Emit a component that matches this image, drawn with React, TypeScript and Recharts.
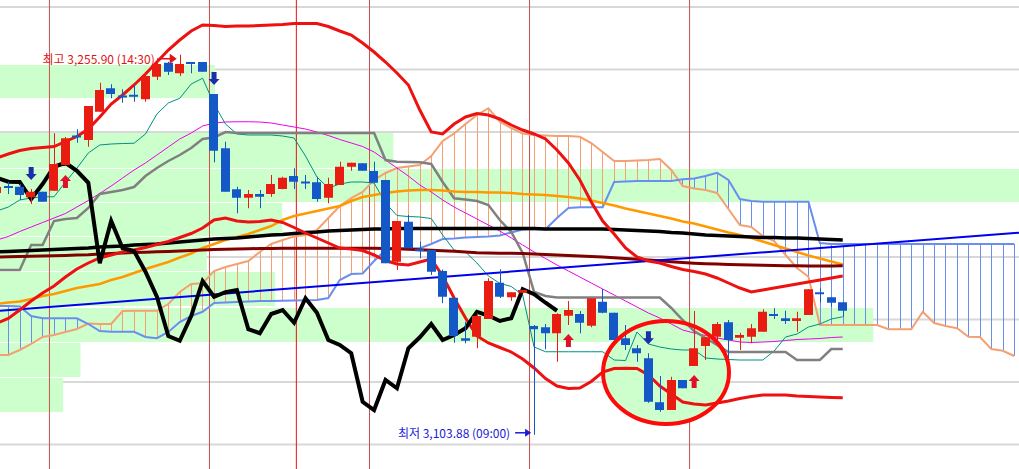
import React from 'react';
import {
  ComposedChart,
  Line,
  Bar,
  XAxis,
  YAxis,
  ReferenceLine,
  ReferenceArea,
  ReferenceDot,
} from 'recharts';

// chart frame (index -1 is the half-cut candle on the left edge)
const WIDTH = 1019;
const HEIGHT = 469;
const FIRST_BAR = -1;
const X_DOMAIN: [number, number] = [-0.726, 88.42];
const Y_DOMAIN: [number, number] = [3090.2, 3277.8];

const gridPrices = [3275, 3250, 3225, 3200, 3175, 3150, 3125, 3100];
const dayBreaks = [3.6, 17.6, 25.2, 31.6, 45.6, 59.6];

// candles, index -1 .. 73
const opens = [
  3200.6, 3203.4, 3203.1, 3198.9, 3201.1, 3201.5, 3211.8, 3223.6, 3221.8, 3233.1,
  3242.5, 3239.6, 3239.9, 3238.1, 3247.1, 3252.7, 3248.5, 3253.0, 3253.0, 3240.2,
  3218.5, 3202.1, 3198.7, 3200.2, 3200.2, 3202.2, 3207.4, 3205.2, 3204.9, 3198.7,
  3203.8, 3211.1, 3212.5, 3209.4, 3205.8, 3173.1, 3189.1, 3178.1, 3177.8, 3169.4,
  3158.7, 3142.5, 3143.1, 3150.2, 3164.7, 3158.9, 3160.7, 3147.4, 3146.9, 3144.5,
  3151.5, 3152.2, 3147.5, 3157.1, 3152.7, 3142.5, 3138.5, 3134.5, 3116.9, 3113.8,
  3125.8, 3131.4, 3139.4, 3143.1, 3148.9, 3142.7, 3143.1, 3145.1, 3152.2, 3150.5,
  3149.4, 3151.8, 3160.9, 3158.9, 3156.9,
];
const highs = [
  3203.8, 3205.1, 3204.2, 3202.2, 3201.1, 3224.5, 3223.0, 3226.1, 3235.4, 3244.7,
  3244.1, 3242.1, 3243.8, 3248.5, 3254.5, 3253.1, 3255.9, 3253.0, 3253.0, 3240.2,
  3221.1, 3203.1, 3201.8, 3201.8, 3207.8, 3207.1, 3210.5, 3207.8, 3207.1, 3206.7,
  3213.1, 3212.7, 3212.5, 3213.1, 3205.8, 3189.4, 3191.8, 3181.1, 3177.8, 3170.0,
  3158.7, 3149.1, 3152.5, 3166.5, 3170.1, 3160.9, 3161.8, 3147.8, 3148.2, 3152.5,
  3157.4, 3153.4, 3158.5, 3162.2, 3152.7, 3147.8, 3139.8, 3136.5, 3127.4, 3127.1,
  3125.8, 3153.4, 3142.9, 3149.0, 3149.8, 3144.7, 3148.2, 3154.1, 3154.5, 3153.5,
  3153.1, 3162.1, 3162.5, 3158.9, 3156.9,
];
const lows = [
  3199.8, 3200.2, 3197.8, 3196.2, 3197.1, 3201.5, 3211.4, 3220.7, 3219.1, 3233.1,
  3238.5, 3236.7, 3237.1, 3237.1, 3245.8, 3247.8, 3247.4, 3248.5, 3249.1, 3212.9,
  3201.1, 3192.5, 3194.5, 3194.5, 3199.1, 3202.1, 3202.2, 3202.2, 3197.1, 3196.5,
  3203.8, 3209.5, 3209.5, 3204.7, 3172.5, 3169.8, 3178.5, 3174.5, 3167.8, 3156.5,
  3140.7, 3140.5, 3138.5, 3150.2, 3158.6, 3157.5, 3160.7, 3103.88, 3138.1, 3133.1,
  3147.8, 3144.5, 3146.9, 3152.5, 3141.1, 3137.8, 3133.1, 3116.7, 3113.1, 3113.8,
  3122.5, 3131.4, 3133.8, 3141.1, 3133.8, 3137.8, 3140.5, 3145.1, 3150.2, 3148.2,
  3145.1, 3151.8, 3156.7, 3155.1, 3151.1,
];
const closes = [
  3203.0, 3202.8, 3199.8, 3201.1, 3197.1, 3212.2, 3222.5, 3223.2, 3235.4, 3241.8,
  3240.2, 3239.4, 3239.8, 3247.4, 3252.2, 3249.1, 3252.2, 3252.8, 3249.1, 3217.5,
  3201.1, 3198.7, 3200.2, 3199.1, 3204.2, 3206.7, 3205.1, 3205.0, 3198.2, 3204.2,
  3211.1, 3212.7, 3209.5, 3204.7, 3172.5, 3189.4, 3178.5, 3177.4, 3169.1, 3159.1,
  3143.4, 3141.5, 3151.4, 3165.4, 3159.1, 3160.9, 3161.8, 3146.1, 3144.5, 3152.2,
  3153.8, 3148.7, 3158.5, 3152.7, 3141.8, 3139.8, 3136.5, 3117.1, 3113.8, 3125.8,
  3122.5, 3138.5, 3142.9, 3148.2, 3141.8, 3143.8, 3146.5, 3153.1, 3151.6, 3149.4,
  3150.5, 3162.1, 3160.1, 3156.7, 3153.5,
];

// bollinger bands
const bbUpper = [
  3214.6, 3216.2, 3217.6, 3218.4, 3218.8, 3219.2, 3221.2, 3223.2, 3226.2, 3231.0,
  3236.2, 3239.8, 3243.8, 3248.2, 3253.0, 3257.8, 3261.8, 3265.4, 3267.8, 3267.6,
  3267.2, 3267.4, 3267.4, 3267.6, 3267.8, 3268.0, 3268.4, 3268.4, 3268.4, 3267.2,
  3265.4, 3263.8, 3260.6, 3257.0, 3253.0, 3248.6, 3243.8, 3233.8, 3225.0, 3224.2,
  3228.2, 3231.0, 3232.4, 3231.8, 3230.2, 3227.8, 3225.8, 3224.2, 3222.2, 3217.8,
  3212.6, 3205.8, 3197.0, 3189.4, 3184.2, 3178.6, 3175.0, 3173.4, 3172.6, 3171.2,
  3170.0, 3169.2, 3168.2, 3166.6, 3164.6, 3162.6, 3161.0, 3161.8, 3162.6, 3163.4,
  3164.2, 3165.0, 3165.8, 3166.6, 3167.4,
];
const bbLower = [
  3148.6, 3150.4, 3153.8, 3157.4, 3160.6, 3163.4, 3167.0, 3170.2, 3172.6, 3174.6,
  3175.8, 3177.0, 3177.8, 3178.8, 3180.0, 3181.2, 3182.8, 3184.4, 3186.6, 3189.8,
  3190.6, 3189.4, 3189.0, 3189.2, 3189.8, 3188.8, 3186.8, 3184.6, 3182.6, 3180.6,
  3178.6, 3178.2, 3177.6, 3175.8, 3173.6, 3172.2, 3171.8, 3173.0, 3174.2, 3167.4,
  3158.6, 3150.6, 3143.4, 3140.6, 3138.8, 3137.0, 3134.2, 3130.6, 3126.4, 3123.4,
  3122.4, 3122.6, 3125.2, 3129.0, 3130.4, 3130.5, 3130.4, 3127.8, 3123.4, 3120.2,
  3117.0, 3116.2, 3115.8, 3116.6, 3117.4, 3118.4, 3119.2, 3119.8, 3119.8, 3119.8,
  3119.4, 3119.2, 3119.0, 3118.8, 3118.7,
];

// moving averages
const ma20 = [
  3181.8, 3183.2, 3185.2, 3187.0, 3188.8, 3190.6, 3192.4, 3195.0, 3197.6, 3200.4,
  3203.4, 3206.6, 3209.8, 3212.6, 3215.8, 3219.0, 3222.2, 3224.6, 3227.4, 3228.6,
  3229.0, 3229.1, 3229.1, 3229.0, 3228.6, 3227.8, 3227.0, 3226.2, 3225.0, 3223.6,
  3222.0, 3220.6, 3219.2, 3217.0, 3213.8, 3210.6, 3207.4, 3203.8, 3201.0, 3197.8,
  3195.0, 3192.6, 3190.2, 3187.8, 3185.4, 3182.6, 3179.8, 3177.0, 3174.4, 3171.8,
  3169.4, 3167.0, 3164.6, 3162.2, 3159.8, 3157.4, 3155.0, 3152.6, 3150.6, 3148.2,
  3145.8, 3144.6, 3143.6, 3142.6, 3141.8, 3141.0, 3140.8, 3141.0, 3141.2, 3141.6,
  3142.0, 3142.2, 3142.4, 3142.8, 3143.0,
];
const ma60 = [
  3156.2, 3156.8, 3157.2, 3158.2, 3159.4, 3160.2, 3161.4, 3162.6, 3163.4, 3164.2,
  3165.8, 3167.0, 3168.6, 3170.2, 3171.6, 3173.0, 3174.8, 3176.4, 3178.6, 3180.2,
  3181.8, 3183.0, 3184.2, 3185.8, 3187.4, 3189.8, 3191.4, 3192.4, 3193.4, 3194.4,
  3195.4, 3197.4, 3199.0, 3199.8, 3200.6, 3201.2, 3201.6, 3201.8, 3201.8, 3201.6,
  3201.2, 3201.0, 3201.0, 3200.8, 3200.8, 3200.6, 3200.2, 3200.0, 3199.8, 3199.4,
  3199.0, 3198.4, 3197.6, 3196.6, 3195.6, 3194.4, 3193.4, 3192.4, 3191.4, 3190.4,
  3189.2, 3188.4, 3187.2, 3186.0, 3184.8, 3183.8, 3182.6, 3181.2, 3179.8, 3178.4,
  3177.0, 3175.6, 3174.4, 3173.2, 3172.0,
];
const ma120 = [
  3177.0, 3177.2, 3177.4, 3177.6, 3177.8, 3178.0, 3178.2, 3178.4, 3178.6, 3179.0,
  3179.2, 3179.4, 3179.8, 3180.0, 3180.2, 3180.6, 3181.0, 3181.4, 3181.8, 3182.2,
  3182.4, 3182.6, 3183.0, 3183.4, 3183.8, 3184.0, 3184.4, 3184.8, 3185.0, 3185.4,
  3185.6, 3185.8, 3186.0, 3186.2, 3186.2, 3186.4, 3186.4, 3186.4, 3186.4, 3186.4,
  3186.4, 3186.4, 3186.4, 3186.4, 3186.4, 3186.4, 3186.4, 3186.4, 3186.2, 3186.2,
  3186.2, 3186.2, 3186.2, 3186.2, 3186.0, 3185.8, 3185.6, 3185.4, 3185.2, 3184.8,
  3184.6, 3184.2, 3183.8, 3183.6, 3183.4, 3183.2, 3183.0, 3182.8, 3182.8, 3182.6,
  3182.6, 3182.4, 3182.2, 3182.0, 3181.8,
];
const ma240 = [
  3175.0, 3175.1, 3175.2, 3175.3, 3175.4, 3175.5, 3175.6, 3175.8, 3175.9, 3176.2,
  3176.4, 3176.6, 3176.8, 3176.9, 3177.1, 3177.2, 3177.4, 3177.6, 3177.8, 3178.0,
  3178.1, 3178.2, 3178.3, 3178.4, 3178.4, 3178.5, 3178.5, 3178.5, 3178.5, 3178.5,
  3178.5, 3178.5, 3178.5, 3178.5, 3178.4, 3178.3, 3178.1, 3177.9, 3177.7, 3177.5,
  3177.3, 3177.0, 3176.7, 3176.6, 3176.5, 3176.5, 3176.4, 3176.2, 3176.0, 3175.8,
  3175.6, 3175.4, 3175.2, 3175.0, 3174.7, 3174.4, 3174.1, 3173.8, 3173.5, 3173.1,
  3172.8, 3172.5, 3172.3, 3172.2, 3172.0, 3171.9, 3171.8, 3171.7, 3171.6, 3171.5,
  3171.5, 3171.4, 3171.4, 3171.4, 3171.5,
];

// ichimoku
const tenkan = [
  3193.4, 3195.0, 3197.8, 3198.6, 3199.1, 3199.1, 3205.0, 3210.5, 3216.6, 3219.8,
  3220.2, 3220.4, 3220.5, 3224.2, 3232.2, 3236.6, 3238.5, 3244.2, 3246.5, 3236.2,
  3228.2, 3224.2, 3223.8, 3223.8, 3223.8, 3223.4, 3222.6, 3215.4, 3207.0, 3202.6,
  3204.2, 3205.0, 3205.0, 3204.6, 3196.6, 3191.6, 3191.2, 3191.0, 3190.4, 3183.8,
  3177.8, 3177.0, 3172.6, 3167.4, 3164.5, 3163.2, 3159.8, 3139.0, 3137.1, 3137.1,
  3137.1, 3137.1, 3137.1, 3137.1, 3133.8, 3133.6, 3145.0, 3140.2, 3139.0, 3138.2,
  3137.8, 3137.8, 3134.6, 3134.2, 3134.0, 3133.8, 3133.8, 3133.8, 3137.4, 3143.0,
  3144.2, 3147.0, 3148.2, 3150.2, 3151.1,
];
const kijun = [
  3169.8, 3169.8, 3169.8, 3179.8, 3179.8, 3189.4, 3190.2, 3190.6, 3194.6, 3200.2,
  3201.0, 3201.8, 3203.0, 3207.4, 3210.6, 3213.4, 3215.8, 3218.6, 3222.2, 3222.8,
  3225.0, 3224.6, 3224.6, 3224.6, 3224.6, 3224.6, 3224.6, 3224.6, 3224.6, 3224.6,
  3224.6, 3224.6, 3224.6, 3224.6, 3213.8, 3213.1, 3213.0, 3212.9, 3212.2, 3205.0,
  3198.5, 3198.0, 3197.4, 3195.8, 3189.8, 3185.0, 3176.6, 3161.0, 3159.4, 3158.8,
  3158.8, 3158.8, 3158.8, 3158.8, 3158.8, 3158.8, 3158.8, 3158.8, 3158.8, 3154.6,
  3149.8, 3145.4, 3142.6, 3139.8, 3137.0, 3137.0, 3137.0, 3137.0, 3137.0, 3137.0,
  3133.8, 3133.8, 3133.8, 3138.2, 3138.2,
];
// lagging span, index -1 .. 48
const chikou = [
  3206.7, 3205.1, 3205.0, 3198.2, 3204.2, 3211.1, 3212.7, 3209.5, 3204.7, 3172.5,
  3189.4, 3178.5, 3177.4, 3169.1, 3159.1, 3143.4, 3141.5, 3151.4, 3165.4, 3159.1,
  3160.9, 3161.8, 3146.1, 3144.5, 3152.2, 3153.8, 3148.7, 3158.5, 3152.7, 3141.8,
  3139.8, 3136.5, 3117.1, 3113.8, 3125.8, 3122.5, 3138.5, 3142.9, 3148.2, 3141.8,
  3143.8, 3146.5, 3153.1, 3151.6, 3149.4, 3150.5, 3162.1, 3160.1, 3156.7, 3153.5,
];
// leading spans, index -1 .. 88
const spanA = [
  3135.8, 3135.8, 3137.8, 3140.2, 3143.0, 3143.8, 3145.0, 3146.2, 3148.4, 3148.2,
  3148.2, 3153.4, 3153.5, 3153.5, 3153.5, 3156.2, 3161.0, 3164.2, 3164.5, 3169.4,
  3171.0, 3172.2, 3173.4, 3177.0, 3180.2, 3181.8, 3183.2, 3183.8, 3185.8, 3190.6,
  3195.4, 3198.6, 3201.0, 3205.8, 3208.6, 3210.6, 3211.2, 3211.8, 3215.4, 3221.4,
  3224.4, 3228.2, 3231.8, 3234.5, 3229.1, 3226.6, 3224.4, 3223.8, 3223.6, 3223.4,
  3223.4, 3223.1, 3220.6, 3217.0, 3213.4, 3213.4, 3213.6, 3213.8, 3214.2, 3209.8,
  3203.4, 3202.4, 3201.8, 3200.6, 3194.2, 3187.8, 3187.0, 3183.4, 3181.4, 3175.8,
  3170.6, 3167.1, 3147.8, 3147.8, 3147.8, 3147.8, 3147.8, 3147.8, 3146.1, 3146.1,
  3146.1, 3153.1, 3148.6, 3147.4, 3146.5, 3143.1, 3143.0, 3138.2, 3137.5, 3135.4,
];
const spanB = [
  3155.4, 3155.4, 3155.2, 3151.4, 3150.5, 3150.5, 3150.5, 3150.5, 3148.2, 3145.4,
  3145.1, 3145.1, 3145.1, 3143.0, 3142.5, 3145.0, 3149.0, 3151.4, 3153.1, 3156.6,
  3156.8, 3157.0, 3157.2, 3157.4, 3157.4, 3157.5, 3157.6, 3157.7, 3157.8, 3158.6,
  3165.8, 3168.2, 3168.4, 3173.4, 3177.8, 3178.4, 3178.5, 3178.5, 3180.2, 3182.2,
  3182.4, 3182.8, 3183.0, 3183.2, 3183.6, 3184.8, 3186.0, 3186.1, 3186.1, 3190.6,
  3194.6, 3194.9, 3194.9, 3194.9, 3205.0, 3205.2, 3205.4, 3205.4, 3205.4, 3205.4,
  3206.1, 3206.4, 3207.4, 3208.7, 3205.8, 3198.2, 3197.4, 3197.1, 3197.1, 3197.1,
  3197.1, 3197.1, 3180.6, 3180.2, 3180.2, 3180.2, 3180.2, 3180.2, 3180.2, 3180.2,
  3180.2, 3180.2, 3180.2, 3180.2, 3180.2, 3180.2, 3180.2, 3180.2, 3180.2, 3180.2,
];

// trend line, price at the left and right edge
const trendLine = [3153.5, 3184.7];

// volume-by-price profile
const profileTop = [3251.8, 3224.6, 3210.2, 3196.6, 3183.0, 3169.0, 3154.6, 3140.6, 3126.6];
const profileBottom = [3238.6, 3210.6, 3197.0, 3183.4, 3169.4, 3155.4, 3141.0, 3127.0, 3113.0];
const profileVolume = [21.1, 38.6, 100, 27.7, 20.3, 27.0, 85.7, 7.9, 6.2];

// signals
const buySignals = [5, 49, 60];
const sellSignals = [2, 18, 56];

const highIndex = 15;
const highPrice = 3255.9;
const highText = '최고 3,255.90 (14:30)';
const lowIndex = 46;
const lowPrice = 3103.88;
const lowText = '최저 3,103.88 (09:00)';

// circled zone
const focusIndex = [52.03, 63.05];
const focusPrice = [3108.2, 3149.4];

const UP = '#e81c10';
const DOWN = '#1458c8';
const SPAN_A = '#f4a070';
const SPAN_B = '#6a8ef0';
const FONT = "'Noto Sans CJK KR', 'Noto Sans', sans-serif";

const rows = spanA.map((a, k) => {
  const b = spanB[k];
  const row: Record<string, any> = {
    i: FIRST_BAR + k,
    spanA: a,
    spanB: b,
    cloud: [Math.min(a, b), Math.max(a, b)],
  };
  if (k < opens.length) {
    row.open = opens[k];
    row.high = highs[k];
    row.low = lows[k];
    row.close = closes[k];
    row.range = [lows[k], highs[k]];
    row.bbUpper = bbUpper[k];
    row.bbLower = bbLower[k];
    row.ma20 = ma20[k];
    row.ma60 = ma60[k];
    row.ma120 = ma120[k];
    row.ma240 = ma240[k];
    row.tenkan = tenkan[k];
    row.kijun = kijun[k];
  }
  if (k < chikou.length) row.chikou = chikou[k];
  return row;
});

function CandleShape(props: any) {
  const { x, y, width, height, payload } = props;
  if (!payload || payload.open == null) return null;
  const { open, close, high, low } = payload;
  const top = Math.min(y, y + height);
  const span = Math.abs(height);
  const k = high > low ? span / (high - low) : 0;
  const py = (v: number) => top + (high - v) * k;
  const color = close >= open ? UP : DOWN;
  const cx = Math.round(x + width / 2) + 0.5;
  const bodyTop = py(Math.max(open, close));
  const bodyH = Math.max(2, py(Math.min(open, close)) - bodyTop);
  return (
    <g>
      <line x1={cx} x2={cx} y1={top} y2={top + span} stroke={color} strokeWidth={1} />
      <rect x={Math.round(x)} y={bodyTop} width={width} height={bodyH} fill={color} />
    </g>
  );
}

function HatchShape(props: any) {
  const { x, y, width, height, payload } = props;
  if (!payload || !height) return null;
  const color = payload.spanA >= payload.spanB ? SPAN_A : SPAN_B;
  const cx = Math.round(x + width / 2) + 0.5;
  return <line x1={cx} x2={cx} y1={y} y2={y + height} stroke={color} strokeWidth={1} />;
}

function UpArrow(props: any) {
  const { cx, cy } = props;
  const t = cy + 9;
  return (
    <path
      d={`M${cx} ${t} L${cx + 5.5} ${t + 6} L${cx + 2.5} ${t + 6} L${cx + 2.5} ${t + 13} L${cx - 2.5} ${t + 13} L${cx - 2.5} ${t + 6} L${cx - 5.5} ${t + 6} Z`}
      fill="#e0102a"
    />
  );
}

function DownArrow(props: any) {
  const { cx, cy } = props;
  const t = cy - 9;
  return (
    <path
      d={`M${cx} ${t} L${cx + 5.5} ${t - 6} L${cx + 2.5} ${t - 6} L${cx + 2.5} ${t - 13} L${cx - 2.5} ${t - 13} L${cx - 2.5} ${t - 6} L${cx - 5.5} ${t - 6} Z`}
      fill="#1a2fa8"
    />
  );
}

function HighNote(props: any) {
  const { cx, cy } = props;
  const ay = cy + 4;
  const c = '#e01414';
  return (
    <g>
      <text x={cx - 25} y={ay} textAnchor="end" dominantBaseline="central" fill={c} fontSize={12} fontFamily={FONT}>
        {highText}
      </text>
      <line x1={cx - 20} x2={cx - 8} y1={ay} y2={ay} stroke={c} strokeWidth={1.5} />
      <path d={`M${cx - 3} ${ay} L${cx - 10} ${ay - 5} L${cx - 10} ${ay + 5} Z`} fill={c} />
    </g>
  );
}

function LowNote(props: any) {
  const { cx, cy } = props;
  const ay = cy - 2;
  const c = '#1a1ad8';
  return (
    <g>
      <text x={cx - 24} y={ay} textAnchor="end" dominantBaseline="central" fill={c} fontSize={12} fontFamily={FONT}>
        {lowText}
      </text>
      <line x1={cx - 19} x2={cx - 8} y1={ay} y2={ay} stroke={c} strokeWidth={1.5} />
      <path d={`M${cx - 3} ${ay} L${cx - 9} ${ay - 4} L${cx - 9} ${ay + 4} Z`} fill={c} />
    </g>
  );
}

function FocusFill(props: any) {
  const { x, y, width, height } = props;
  return <ellipse cx={x + width / 2} cy={y + height / 2} rx={width / 2} ry={height / 2} fill="#ccffcc" />;
}

function FocusRing(props: any) {
  const { x, y, width, height } = props;
  return (
    <ellipse cx={x + width / 2} cy={y + height / 2} rx={width / 2} ry={height / 2} fill="none" stroke="#ff0a0a" strokeWidth={4} />
  );
}

const line = (key: string, color: string, width: number, z: number) => (
  <Line
    key={key}
    dataKey={key}
    type="linear"
    stroke={color}
    strokeWidth={width}
    dot={false}
    activeDot={false}
    isAnimationActive={false}
    zIndex={z}
  />
);

export default function App() {
  const span = X_DOMAIN[1] - X_DOMAIN[0];
  return (
    <div style={{ position: 'absolute', left: 0, top: 0, width: WIDTH, height: HEIGHT, background: '#fff' }}>
      <ComposedChart width={WIDTH} height={HEIGHT} data={rows} margin={{ top: 0, right: 0, bottom: 0, left: 0 }}>
        <XAxis dataKey="i" type="number" domain={X_DOMAIN} hide allowDataOverflow />
        <XAxis xAxisId="c" dataKey="i" type="number" domain={X_DOMAIN} hide allowDataOverflow />
        <YAxis type="number" domain={Y_DOMAIN} hide allowDataOverflow />

        {gridPrices.map((p) => (
          <ReferenceLine key={`g${p}`} y={p} stroke="#d8d8d8" strokeWidth={2} zIndex={-30} />
        ))}
        {profileVolume.map((v, n) => (
          <ReferenceArea
            key={`p${n}`}
            x1={X_DOMAIN[0]}
            x2={X_DOMAIN[0] + (v / 100) * span}
            y1={profileBottom[n]}
            y2={profileTop[n]}
            fill="#ccffcc"
            fillOpacity={1}
            stroke="none"
            ifOverflow="visible"
            zIndex={-20}
          />
        ))}
        {dayBreaks.map((d, n) => (
          <ReferenceLine key={`d${n}`} x={d} stroke={n === 2 ? '#e81010' : '#c85050'} strokeWidth={1} zIndex={-10} />
        ))}
        <ReferenceArea
          x1={focusIndex[0]}
          x2={focusIndex[1]}
          y1={focusPrice[0]}
          y2={focusPrice[1]}
          shape={FocusFill}
          ifOverflow="visible"
          zIndex={-5}
        />

        <Bar dataKey="cloud" barSize={3} shape={HatchShape} isAnimationActive={false} zIndex={100} />
        {line('spanA', SPAN_A, 2, 150)}
        {line('spanB', SPAN_B, 2, 150)}
        {line('ma20', '#ee00ee', 1, 200)}
        {line('tenkan', '#00907f', 1, 200)}
        {line('kijun', '#808080', 2.5, 210)}
        {line('ma60', '#ff9900', 2.5, 220)}
        {line('ma240', '#800000', 3, 230)}
        {line('ma120', '#000000', 3.5, 240)}
        <ReferenceLine
          segment={[
            { x: X_DOMAIN[0], y: trendLine[0] },
            { x: X_DOMAIN[1], y: trendLine[1] },
          ]}
          stroke="#0000ee"
          strokeWidth={2}
          ifOverflow="visible"
          zIndex={245}
        />
        {line('bbUpper', '#ee1111', 3, 250)}
        {line('bbLower', '#ee1111', 3, 250)}
        {line('chikou', '#000000', 4, 260)}

        <Bar xAxisId="c" dataKey="range" barSize={9} shape={CandleShape} isAnimationActive={false} zIndex={500} />

        <ReferenceArea
          x1={focusIndex[0]}
          x2={focusIndex[1]}
          y1={focusPrice[0]}
          y2={focusPrice[1]}
          shape={FocusRing}
          ifOverflow="visible"
          zIndex={600}
        />
        {buySignals.map((i) => (
          <ReferenceDot key={`b${i}`} x={i} y={lows[i - FIRST_BAR]} shape={UpArrow} zIndex={700} />
        ))}
        {sellSignals.map((i) => (
          <ReferenceDot key={`s${i}`} x={i} y={highs[i - FIRST_BAR]} shape={DownArrow} zIndex={700} />
        ))}
        <ReferenceDot x={highIndex} y={highPrice} shape={HighNote} zIndex={800} />
        <ReferenceDot x={lowIndex} y={lowPrice} shape={LowNote} zIndex={800} />
      </ComposedChart>
    </div>
  );
}
